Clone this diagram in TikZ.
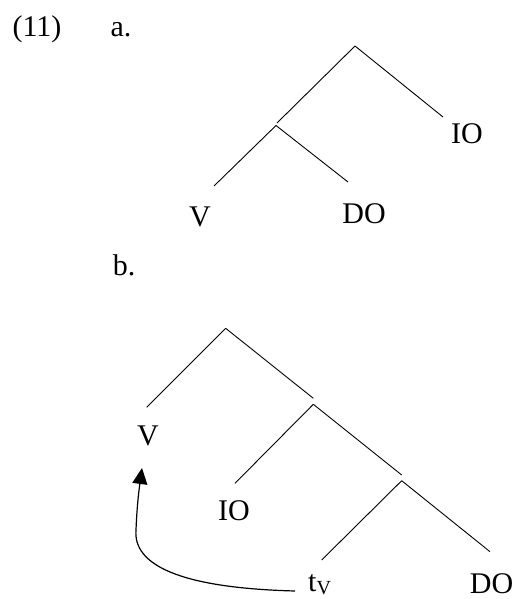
\documentclass[tikz,border=0pt]{standalone}
\usepackage{fontspec}
\setmainfont{Liberation Serif}
\usetikzlibrary{arrows.meta}
\begin{document}
\begin{tikzpicture}[x=1pt,y=-1pt,
  lbl/.style={inner sep=0pt, anchor=base, font=\fontsize{30}{36}\selectfont},
  branch/.style={line width=0.9pt},
  move/.style={line width=1.2pt, -{Triangle[length=16pt,width=15pt]}}]
\useasboundingbox (0,0) rectangle (518,599);

% example number and sub-labels
\node[lbl] (ex) at (37,37) {(11)};
\node[lbl] (la) at (121,37) {a.};
\node[lbl] (lb) at (124,275) {b.};

% ---- tree (a) ----
\coordinate (aRoot) at (355,46);
\coordinate (aLft)  at (277,123);
\coordinate (aSub)  at (276,125.5);
\coordinate (aIOe)  at (443,117);
\coordinate (aVe)   at (214,186);
\coordinate (aDOe)  at (348,182);
\node[lbl] (aV)  at (200,226.7) {V};
\node[lbl] (aDO) at (364,223) {DO};
\node[lbl] (aIO) at (467,143) {IO};
\draw[branch] (aRoot) -- (aIOe);
\draw[branch] (aRoot) -- (aLft);
\draw[branch] (aSub) -- (aVe);
\draw[branch] (aSub) -- (aDOe);

% ---- tree (b) ----
\coordinate (bRoot) at (225.7,328.3);
\coordinate (bVe)   at (146.7,407.3);
\coordinate (bR1)   at (313.3,398.3);
\coordinate (bN2)   at (313.3,404.3);
\coordinate (bIOe)  at (235,483.3);
\coordinate (bR2)   at (401.7,475);
\coordinate (bN3)   at (401.7,480.7);
\coordinate (bte)   at (321.7,560);
\coordinate (bDOe)  at (490,551.7);
\node[lbl] (bV)  at (148,445) {V};
\node[lbl] (bIO) at (234,520) {IO};
\node[lbl, anchor=base west] (tV) at (308,591)
  {t\raisebox{-3pt}{\fontsize{20}{20}\selectfont V}};
\node[lbl] (bDO) at (491.5,593) {DO};
\draw[branch] (bRoot) -- (bVe);
\draw[branch] (bRoot) -- (bR1);
\draw[branch] (bN2) -- (bIOe);
\draw[branch] (bN2) -- (bR2);
\draw[branch] (bN3) -- (bte);
\draw[branch] (bN3) -- (bDOe);

% verb movement arrow from the trace up to V
\coordinate (vTip) at (142,468);
\draw[move] ([xshift=-13pt]tV.base west)
  .. controls (180,588) and (133,565) .. (136,530)
  .. controls (137,505) and (139,490) .. (vTip);
\end{tikzpicture}
\end{document}
